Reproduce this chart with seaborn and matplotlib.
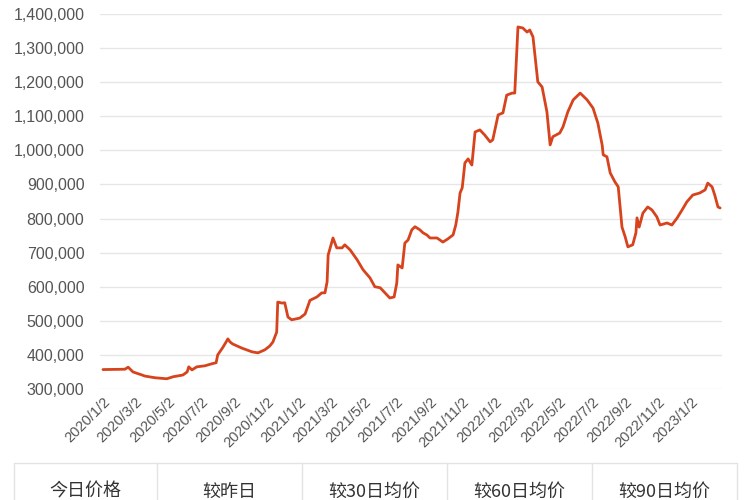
import matplotlib
matplotlib.use("Agg")
import matplotlib.pyplot as plt
import matplotlib.ticker as ticker
from matplotlib.lines import Line2D
import pandas as pd
import seaborn as sns

# price series
dates = [
    "2020-01-02", "2020-02-12", "2020-02-18", "2020-02-27", "2020-03-15", "2020-03-20",
    "2020-04-08", "2020-04-30", "2020-05-12", "2020-05-30", "2020-06-07", "2020-06-10",
    "2020-06-16", "2020-06-25", "2020-07-10", "2020-07-23", "2020-07-31", "2020-08-03",
    "2020-08-13", "2020-08-22", "2020-08-26", "2020-08-31", "2020-09-17", "2020-10-06",
    "2020-10-17", "2020-10-30", "2020-11-08", "2020-11-14", "2020-11-21", "2020-11-23",
    "2020-12-01", "2020-12-06", "2020-12-12", "2020-12-19", "2021-01-03", "2021-01-13",
    "2021-01-22", "2021-02-04", "2021-02-13", "2021-02-19", "2021-02-23", "2021-02-25",
    "2021-03-06", "2021-03-13", "2021-03-23", "2021-03-28", "2021-04-07", "2021-04-20",
    "2021-05-01", "2021-05-14", "2021-05-23", "2021-06-02", "2021-06-11", "2021-06-20",
    "2021-06-28", "2021-07-03", "2021-07-05", "2021-07-13", "2021-07-18", "2021-07-24",
    "2021-07-31", "2021-08-06", "2021-08-15", "2021-08-21", "2021-08-28", "2021-09-03",
    "2021-09-16", "2021-09-27", "2021-10-06", "2021-10-16", "2021-10-21", "2021-10-25",
    "2021-10-29", "2021-11-02", "2021-11-03", "2021-11-07", "2021-11-13", "2021-11-20",
    "2021-11-26", "2021-12-05", "2021-12-14", "2021-12-24", "2021-12-29", "2022-01-08",
    "2022-01-17", "2022-01-24", "2022-02-03", "2022-02-08", "2022-02-14", "2022-02-23",
    "2022-03-03", "2022-03-08", "2022-03-14", "2022-03-23", "2022-03-31", "2022-04-09",
    "2022-04-15", "2022-04-20", "2022-05-03", "2022-05-09", "2022-05-18", "2022-05-28",
    "2022-06-10", "2022-06-23", "2022-07-04", "2022-07-13", "2022-07-21", "2022-07-23",
    "2022-07-30", "2022-08-05", "2022-08-14", "2022-08-20", "2022-08-27", "2022-09-02",
    "2022-09-07", "2022-09-16", "2022-09-22", "2022-09-24", "2022-09-28", "2022-10-05",
    "2022-10-14", "2022-10-22", "2022-10-31", "2022-11-06", "2022-11-19", "2022-11-28",
    "2022-12-08", "2022-12-17", "2022-12-26", "2023-01-06", "2023-01-19", "2023-01-29",
    "2023-02-03", "2023-02-11", "2023-02-16", "2023-02-22", "2023-02-26",
]
prices = [
    357000, 358000, 364000, 350000, 341000, 338000,
    333000, 330000, 336000, 341000, 350000, 365000,
    356000, 365000, 368000, 374000, 377000, 400000,
    423000, 447000, 438000, 432000, 420000, 409000,
    406000, 415000, 426000, 438000, 467000, 555000,
    552000, 553000, 511000, 503000, 508000, 520000,
    560000, 570000, 582000, 582000, 614000, 693000,
    743000, 714000, 714000, 723000, 708000, 679000,
    650000, 626000, 600000, 597000, 582000, 567000,
    570000, 611000, 664000, 655000, 728000, 737000,
    767000, 776000, 767000, 758000, 752000, 743000,
    743000, 731000, 740000, 752000, 781000, 819000,
    875000, 890000, 904000, 963000, 975000, 957000,
    1054000, 1060000, 1045000, 1025000, 1031000, 1104000,
    1110000, 1162000, 1168000, 1168000, 1362000, 1359000,
    1347000, 1353000, 1333000, 1201000, 1186000, 1113000,
    1016000, 1040000, 1051000, 1069000, 1113000, 1148000,
    1168000, 1148000, 1124000, 1080000, 1016000, 987000,
    981000, 934000, 907000, 893000, 775000, 746000,
    717000, 723000, 758000, 802000, 775000, 816000,
    834000, 825000, 805000, 781000, 787000, 781000,
    802000, 825000, 849000, 869000, 875000, 884000,
    904000, 893000, 869000, 834000, 831000,
]
tick_dates = [
    "2020-01-02", "2020-03-02", "2020-05-02", "2020-07-02", "2020-09-02", "2020-11-02",
    "2021-01-02", "2021-03-02", "2021-05-02", "2021-07-02", "2021-09-02", "2021-11-02",
    "2022-01-02", "2022-03-02", "2022-05-02", "2022-07-02", "2022-09-02", "2022-11-02",
    "2023-01-02",
]
y_ticks = [300000, 400000, 500000, 600000, 700000, 800000, 900000,
           1000000, 1100000, 1200000, 1300000, 1400000]
header_labels = ["今日价格", "较昨日", "较30日均价", "较60日均价", "较90日均价"]

df = pd.DataFrame({"date": pd.to_datetime(dates), "price": prices})

sns.set_style("white")
plt.rcParams["font.family"] = ["Liberation Sans", "Noto Sans CJK SC", "DejaVu Sans"]

fig = plt.figure(figsize=(7.5, 5), dpi=100)
ax = fig.add_axes([0.133, 0.222, 0.83, 0.75])

sns.lineplot(data=df, x="date", y="price", ax=ax, color="#D6431C", linewidth=2.0)

ax.set_ylim(300000, 1400000)
ax.set_xlim(pd.Timestamp("2019-12-27"), pd.Timestamp("2023-03-02"))
ax.set_yticks(y_ticks)
ax.yaxis.set_major_formatter(ticker.FuncFormatter(lambda v, p: f"{int(v):,}"))
ax.grid(axis="y", color="#E6E6E6", linewidth=1)
ax.grid(axis="x", visible=False)
for s in ax.spines.values():
    s.set_visible(False)

td = pd.to_datetime(tick_dates)
ax.set_xticks(td)
ax.set_xticklabels([f"{d.year}/{d.month}/{d.day}" for d in td], rotation=45,
                   ha="right", rotation_mode="anchor", fontsize=10.5, color="#555555")
ax.tick_params(axis="y", labelsize=11.5, labelcolor="#555555", length=0, pad=11)
ax.tick_params(axis="x", length=0, pad=4)
ax.set_xlabel("")
ax.set_ylabel("")

# header row of the summary table below the chart
edges = [14, 157, 302, 447, 592, 737]
top = 1 - 463 / 500
fig.add_artist(Line2D([edges[0] / 750, edges[-1] / 750], [top, top],
                      color="#E3E3E3", linewidth=1, transform=fig.transFigure))
for e in edges:
    fig.add_artist(Line2D([e / 750, e / 750], [0, top], color="#E3E3E3",
                          linewidth=1, transform=fig.transFigure))
for i, lab in enumerate(header_labels):
    xc = (edges[i] + edges[i + 1]) / 2 / 750
    fig.text(xc, 1 - 492 / 500, lab, ha="center", va="center", fontsize=13,
             color="#333333", family=["Noto Sans CJK SC", "DejaVu Sans"])

fig.savefig("out.png", dpi=100)
